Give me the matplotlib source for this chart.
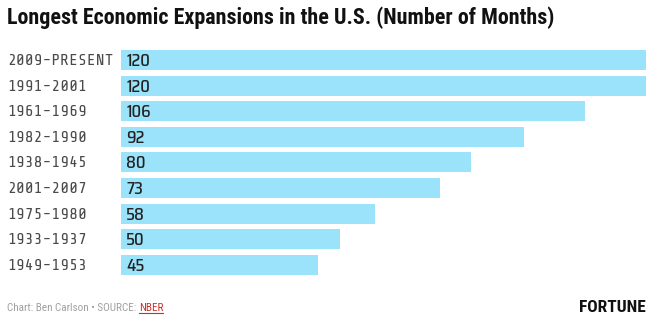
import matplotlib
matplotlib.use("Agg")
import matplotlib.pyplot as plt

periods = ["2009-PRESENT", "1991-2001", "1961-1969", "1982-1990", "1938-1945",
           "2001-2007", "1975-1980", "1933-1937", "1949-1953"]
months = [120, 120, 106, 92, 80, 73, 58, 50, 45]

W, H = 659, 328
fig = plt.figure(figsize=(W / 100, H / 100), dpi=100)
fig.patch.set_facecolor("white")

# axes placed in pixel terms: bars run from x=121 to x=646
ax = fig.add_axes([121 / W, 1 - 277.6 / H, 525 / W, 230.4 / H])
y = list(range(len(months)))
ax.barh(y, months, height=0.78, color="#9be3fb")
ax.set_xlim(0, 120)
ax.set_ylim(len(months) - 0.5, -0.5)
ax.axis("off")

for i, (p, m) in enumerate(zip(periods, months)):
    ax.text(1.2, i + 0.04, str(m), va="center", ha="left", fontsize=12,
            family="Saira SemiCondensed", fontweight=500, color="#222222")
    ax.text(-121 / 525 * 120 + 1.6, i + 0.04, p, va="center", ha="left",
            fontsize=11.8, family="Share Tech Mono", color="#4a4a4a")

fig.text(7 / W, 1 - 18 / H, "Longest Economic Expansions in the U.S. (Number of Months)",
         fontsize=15.8, fontweight="bold", family="Roboto Condensed",
         color="#111111", va="center", ha="left")

ft = fig.text(7 / W, 1 - 308 / H, "Chart: Ben Carlson \u2022 SOURCE: ", fontsize=8.0,
              family="Roboto Condensed", fontweight="normal", color="#a0a0a0",
              va="center", ha="left")
fig.canvas.draw()
bb = ft.get_window_extent()
nb = fig.text(bb.x1 / W, 1 - 308 / H, "NBER", fontsize=8.0, family="Roboto Condensed",
              color="#c9302c", va="center", ha="left")
fig.canvas.draw()
nbb = nb.get_window_extent()
fig.add_artist(plt.Line2D([nbb.x0 / W, nbb.x1 / W], [(nbb.y0 + 0.5) / H] * 2,
                          color="#c9302c", lw=0.8))

fig.text(646 / W, 1 - 307 / H, "FORTUNE", fontsize=12.5, fontweight="bold",
         family="Roboto Condensed", color="#111111", va="center", ha="right")

fig.savefig("out.png", dpi=100)
